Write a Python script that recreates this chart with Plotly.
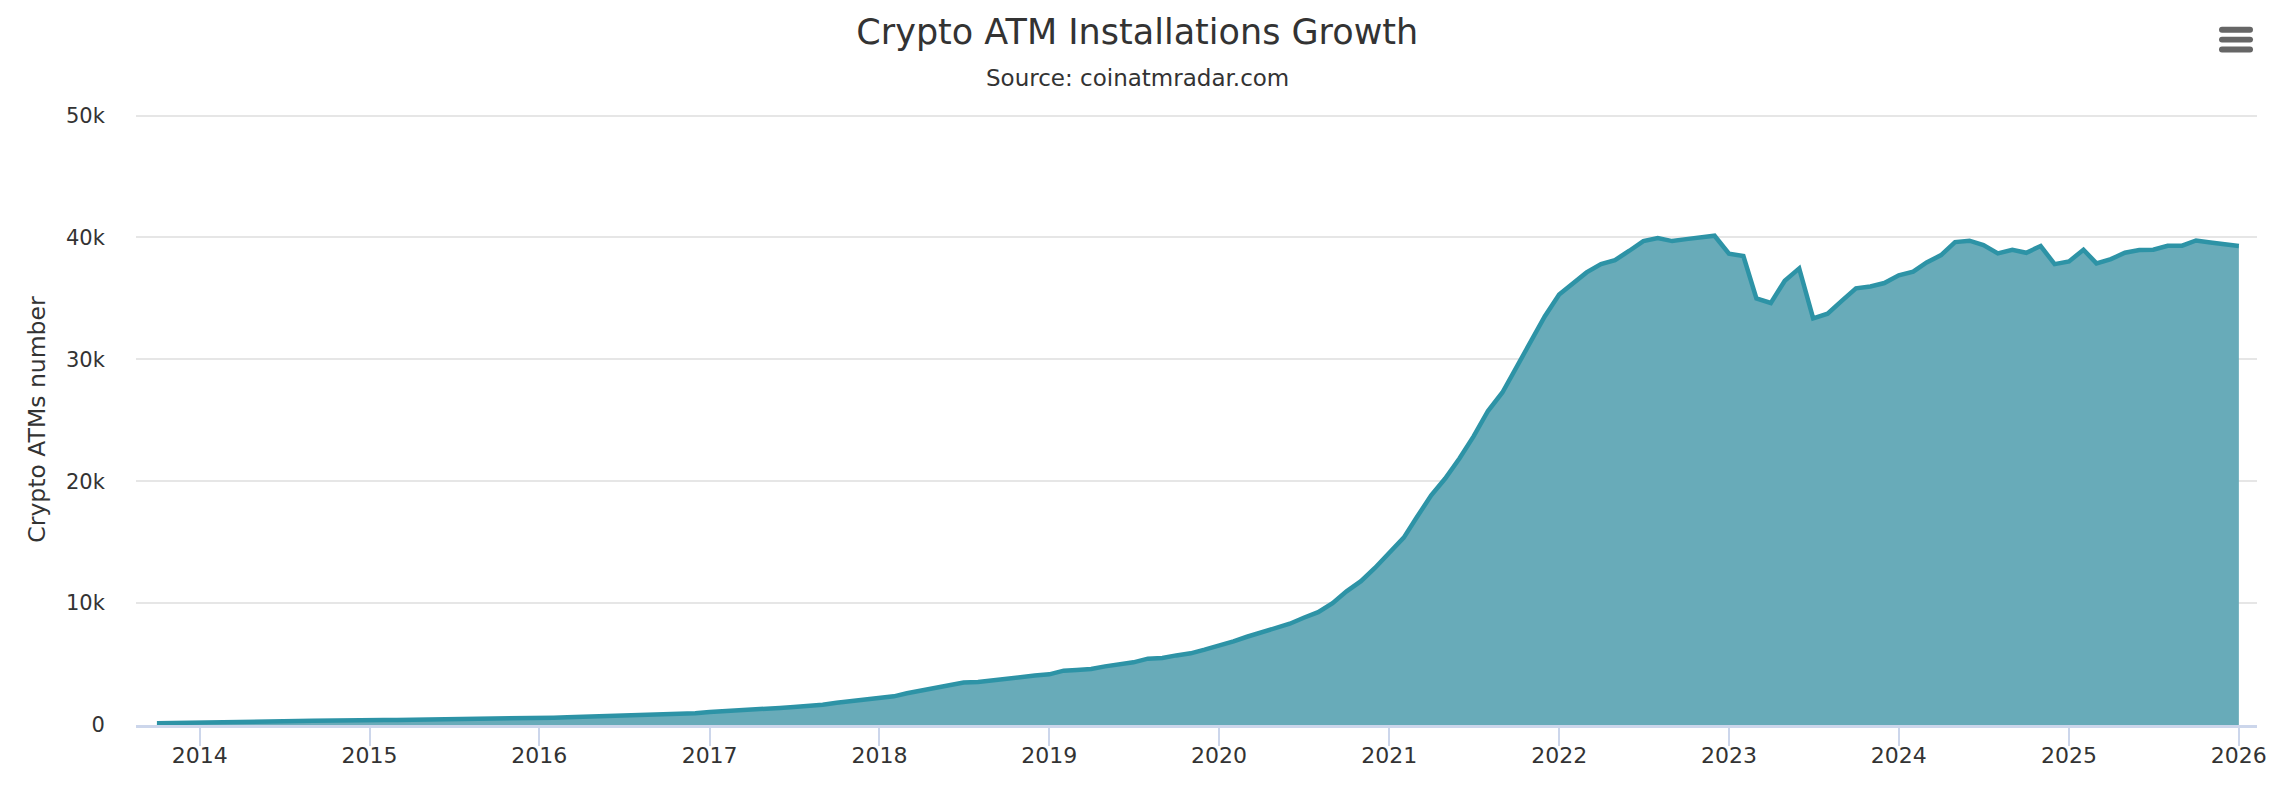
import plotly.graph_objects as go
import pandas as pd

START_MONTH = "2013-10-01"
atms_2013 = [150, 160, 170]
atms_2014 = [170, 175, 190, 210, 230, 260, 290, 320, 340, 370, 380, 390]
atms_2015 = [400, 410, 420, 430, 440, 450, 460, 470, 490, 510, 530, 550]
atms_2016 = [580, 600, 630, 660, 690, 720, 750, 790, 830, 870, 920, 970]
atms_2017 = [1070, 1120, 1190, 1258, 1320, 1400, 1477, 1560, 1668, 1830, 1950, 2060]
atms_2018 = [2200, 2350, 2600, 2820, 3040, 3250, 3480, 3530, 3680, 3810, 3950, 4060]
atms_2019 = [4158, 4460, 4510, 4590, 4810, 4970, 5140, 5440, 5500, 5710, 5880, 6180]
atms_2020 = [6480, 6860, 7240, 7620, 7900, 8310, 8800, 9260, 10000, 10960, 11800, 12880]
atms_2021 = [14130, 15370, 17040, 18840, 20220, 21880, 23680, 25760, 27280, 29360, 31440, 33520]
atms_2022 = [35320, 36284, 37131, 37814, 38142, 38907, 39699, 39950, 39700, 39860, 40030, 40137]
atms_2023 = [38660, 38470, 35000, 34620, 36450, 37460, 33360, 33740, 34810, 35820, 35980, 36260]
atms_2024 = [36890, 37190, 37950, 38550, 39620, 39730, 39370, 38690, 38990, 38740, 39290, 37810]
atms_2025 = [38030, 38990, 37870, 38220, 38740, 38960, 38990, 39320, 39320, 39750, 39590, 39450]
atms_2026 = [39290]

values = (atms_2013 + atms_2014 + atms_2015 + atms_2016 + atms_2017 + atms_2018 + atms_2019
          + atms_2020 + atms_2021 + atms_2022 + atms_2023 + atms_2024 + atms_2025 + atms_2026)
months = pd.date_range(START_MONTH, periods=len(values), freq="MS")

year_ticks = [f"{y}-01-01" for y in range(2014, 2027)]
year_labels = [str(y) for y in range(2014, 2027)]
y_ticks = [0, 10000, 20000, 30000, 40000, 50000]
y_labels = ["0", "10k", "20k", "30k", "40k", "50k"]

TEXT = "#333333"
FONT = "DejaVu Sans"

fig = go.Figure(go.Scatter(
    x=months, y=values, mode="lines",
    line=dict(color="#2d93a6", width=4.5),
    fill="tozeroy", fillcolor="#68abb9",
    name="Crypto ATMs number", showlegend=False,
))

W, H = 2276, 790
L, R, T, B = 136, 19, 113.5, 64.5
pw, ph = W - L - R, H - T - B


def px(x):
    return (x - L) / pw


def py(y):
    return (H - B - y) / ph


def bar(x0, x1, y0, y1):
    r = (y1 - y0) / 2
    return (f"M {px(x0 + r)} {py(y0)} L {px(x1 - r)} {py(y0)} "
            f"Q {px(x1)} {py(y0)} {px(x1)} {py(y0 + r)} Q {px(x1)} {py(y1)} {px(x1 - r)} {py(y1)} "
            f"L {px(x0 + r)} {py(y1)} Q {px(x0)} {py(y1)} {px(x0)} {py(y0 + r)} "
            f"Q {px(x0)} {py(y0)} {px(x0 + r)} {py(y0)} Z")


icon = [dict(type="path", xref="paper", yref="paper", path=bar(2219, 2253, y, y + 6),
             fillcolor="#666666", line=dict(width=0)) for y in (26, 36, 46)]

fig.update_layout(
    width=W, height=H,
    margin=dict(l=L, r=R, t=T, b=B, pad=0, autoexpand=False),
    paper_bgcolor="white", plot_bgcolor="white",
    font=dict(family=FONT, color=TEXT),
    title=dict(text="Crypto ATM Installations Growth", x=(588 + 979) / 2 / 1568, xanchor="center",
               y=1 - 32 / H, yanchor="middle", font=dict(size=35, color=TEXT, family=FONT)),
    annotations=[dict(text="Source: coinatmradar.com", xref="paper", yref="paper",
                      x=px(1137), y=py(77), xanchor="center", yanchor="middle", showarrow=False,
                      font=dict(size=23, color=TEXT, family=FONT))],
    shapes=icon,
    xaxis=dict(type="date", range=["2013-08-17", "2026-02-09"],
               tickmode="array", tickvals=year_ticks, ticktext=year_labels,
               ticks="outside", ticklen=18, tickwidth=2, tickcolor="#ccd6eb",
               ticklabelstandoff=-9,
               showline=True, linecolor="#ccd6eb", linewidth=3, showgrid=False, zeroline=False,
               tickfont=dict(size=22, color=TEXT, family=FONT)),
    yaxis=dict(range=[0, 50125], tickmode="array", tickvals=y_ticks, ticktext=y_labels,
               ticks="outside", ticklen=26, tickcolor="rgba(0,0,0,0)",
               showline=False, showgrid=True, gridcolor="#e6e6e6", gridwidth=2, zeroline=False,
               tickfont=dict(size=21, color=TEXT, family=FONT),
               title=dict(text="Crypto ATMs number", standoff=13, font=dict(size=23.5, color=TEXT, family=FONT))),
)
fig.write_html("out.html", config=dict(displayModeBar=False),
               post_script="document.body.style.margin='0';")
